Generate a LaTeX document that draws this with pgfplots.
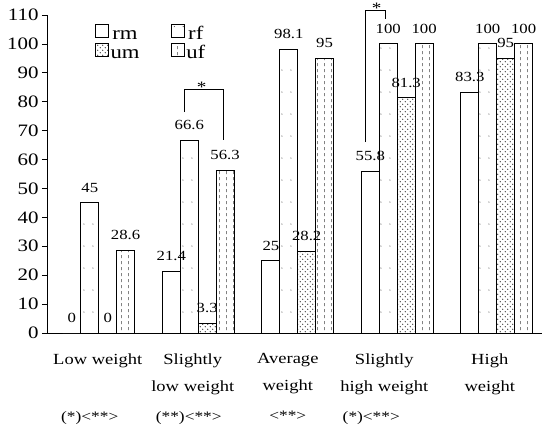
\documentclass[border=0pt]{standalone}
\usepackage{fontspec}
\setmainfont{Liberation Serif}[FakeStretch=1.2]
\usepackage{pgfplots}
\pgfplotsset{compat=1.18}
\usetikzlibrary{patterns.meta}

\pgfdeclarepattern{
  name=sparsedots, type=uncolored,
  bottom left={\pgfpoint{0pt}{0pt}}, top right={\pgfpoint{9pt}{22pt}},
  tile size={\pgfpoint{9pt}{22pt}},
  code={\pgfpathcircle{\pgfpoint{4pt}{11pt}}{0.6pt}\pgfusepath{fill}}
}
\pgfdeclarepattern{
  name=densedots, type=uncolored,
  bottom left={\pgfpoint{0pt}{0pt}}, top right={\pgfpoint{5pt}{5pt}},
  tile size={\pgfpoint{5pt}{5pt}},
  code={\pgfpathcircle{\pgfpoint{1.25pt}{1.25pt}}{0.7pt}\pgfpathcircle{\pgfpoint{3.75pt}{3.75pt}}{0.7pt}\pgfusepath{fill}}
}
\pgfdeclarepattern{
  name=vdashes, type=uncolored,
  bottom left={\pgfpoint{0pt}{0pt}}, top right={\pgfpoint{7pt}{6pt}},
  tile size={\pgfpoint{7pt}{6pt}},
  code={\pgfsetlinewidth{0.5pt}\pgfpathmoveto{\pgfpoint{3.5pt}{1pt}}\pgfpathlineto{\pgfpoint{3.5pt}{4pt}}\pgfusepath{stroke}}
}

\begin{document}
\begin{tikzpicture}
\begin{axis}[
  scale only axis, width=495bp, height=318bp,
  xmin=-0.52, xmax=4.455, ymin=0, ymax=110,
  ybar=0pt, bar width=0.18,
  axis lines*=left,
  axis line style={line width=0.9pt},
  ytick={0,10,...,110},
  tick align=outside, major tick length=5bp,
  y tick style={line width=0.8pt, black},
  xtick={-0.01,0.945,1.9,2.87,3.93},
  x tick style={draw=none},
  xticklabels={
    {Low weight\\\mbox{}\\[3bp]{\fontsize{14.5}{14.5}\selectfont (*)<**>\hspace*{16bp}}},
    {Slightly\\low weight\\[3bp]{\fontsize{14.5}{14.5}\selectfont (**)<**>\hspace*{8bp}}},
    {Average\\weight\\[3bp]{\fontsize{14.5}{14.5}\selectfont <**>}},
    {Slightly\\high weight\\[3bp]{\fontsize{14.5}{14.5}\selectfont (*)<**>\hspace*{26bp}}},
    {High\\weight}
  },
  xticklabel style={align=center, font=\fontsize{15.5}{27}\selectfont, yshift=-12bp},
  yticklabel style={font=\fontsize{17.5}{17.5}\selectfont},
  /pgf/number format/assume math mode=true,
  nodes near coords,
  every node near coord/.append style={font=\fontsize{14}{14}\selectfont, inner sep=0pt, yshift=10bp, black},
  clip=false,
  legend columns=2,
  legend image code/.code={\draw[#1,line width=0.8pt] (0bp,-3bp) rectangle (13bp,10bp);},
  legend style={draw=none, fill=none, at={(0.097,0.972)}, anchor=north west,
    font=\fontsize{19}{16}\selectfont, inner sep=0pt,
    /tikz/every even column/.append style={column sep=30bp, nodes={text height=11bp, text depth=0.5bp, inner sep=1.5bp}},
    row sep=1.5bp},
]
\addplot[draw=black, line width=1pt, fill=white] coordinates {(0,0) (1,21.4) (2,25) (3,55.8) (4,83.3)};
\addplot[draw=black, line width=1pt, pattern=sparsedots, pattern color=black!70] coordinates {(0,45) (1,66.6) (2,98.1) (3,100) (4,100)};
\addplot[draw=black, line width=1pt, pattern=densedots, pattern color=black!85] coordinates {(0,0) (1,3.3) (2,28.2) (3,81.3) (4,95)};
\addplot[draw=black, line width=1pt, pattern=vdashes, pattern color=black!75] coordinates {(0,28.6) (1,56.3) (2,95) (3,100) (4,100)};
\legend{rm,rf,um,uf}
\draw[line width=1pt] (axis cs:0.864,76.4) |- (axis cs:1.256,84.4) -- (axis cs:1.256,66.8);
\node[font=\fontsize{16}{16}\selectfont, anchor=south, inner sep=0pt, yshift=-4bp] at (axis cs:1.035,84.4) {*};
\draw[line width=1pt] (axis cs:2.683,66) |- (axis cs:2.884,111.7) -- (axis cs:2.884,108.6);
\node[font=\fontsize{16}{16}\selectfont, anchor=south, inner sep=0pt, yshift=-4bp] at (axis cs:2.794,111.7) {*};
\end{axis}
\pgfresetboundingbox
\path[use as bounding box] ([xshift=-47bp,yshift=-99bp]current axis.south west) rectangle ([yshift=15bp]current axis.north east);
\end{tikzpicture}
\end{document}
